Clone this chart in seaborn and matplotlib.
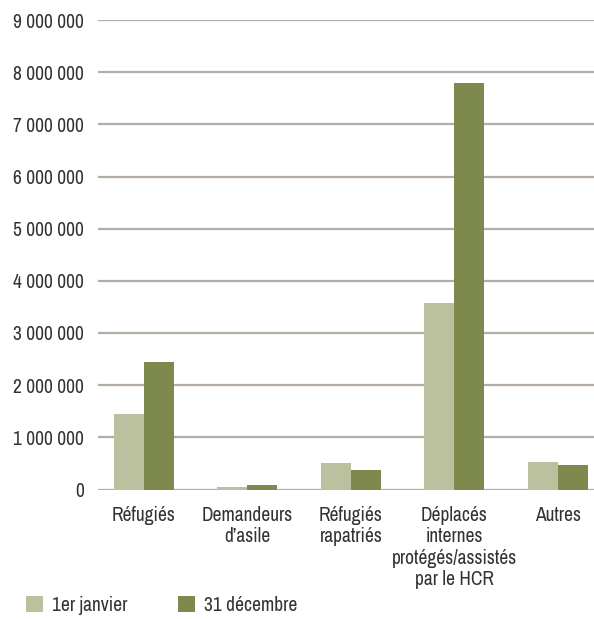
import matplotlib
matplotlib.use("Agg")
import matplotlib.pyplot as plt
import seaborn as sns
import pandas as pd
from matplotlib.patches import Patch

# data
categories = ["Réfugiés", "Demandeurs\nd’asile", "Réfugiés\nrapatriés",
              "Déplacés\ninternes\nprotégés/assistés\npar le HCR", "Autres"]
series = ["1er janvier", "31 décembre"]
jan = [1440000, 50000, 510000, 3570000, 530000]
dec = [2440000, 87000, 375000, 7800000, 470000]
colors = ["#bbc09e", "#7e8a4d"]

df = pd.DataFrame({
    "cat": categories * 2,
    "serie": [series[0]] * 5 + [series[1]] * 5,
    "val": jan + dec,
})

sns.set_style("white")
plt.rcParams["font.family"] = ["Archivo Narrow", "DejaVu Sans"]
plt.rcParams["text.color"] = "#333333"

fig = plt.figure(figsize=(5.94, 6.19), dpi=100)
ax = fig.add_axes([98 / 594, 129.5 / 619, 1 - 98 / 594, (489.5 - 20) / 619])

sns.barplot(data=df, x="cat", y="val", hue="serie", palette=colors,
            width=0.58, saturation=1, linewidth=0, ax=ax, legend=False)

ax.set_ylim(0, 9000000)
ax.set_xlim(-0.445, 4.35)
ax.set_yticks(range(0, 9000001, 1000000))
ax.set_yticklabels(["{:,}".format(v).replace(",", " ") for v in range(0, 9000001, 1000000)])
ax.yaxis.grid(True, color="#b5aca3", linewidth=1.6)
ax.set_axisbelow(True)
for s in ax.spines.values():
    s.set_visible(False)
ax.tick_params(axis="both", length=0, labelsize=14, colors="#333333")
ax.tick_params(axis="y", pad=10)
ax.tick_params(axis="x", pad=12)
for lbl in ax.get_xticklabels():
    lbl.set_linespacing(1.15)
ax.set_xlabel("")
ax.set_ylabel("")

handles = [Patch(facecolor=c, edgecolor="none") for c in colors]
fig.legend(handles, series, loc="lower left", bbox_to_anchor=(8 / 594, -0.022),
           ncol=2, frameon=False, fontsize=14, handlelength=0.9, handleheight=0.9,
           handletextpad=0.45, columnspacing=2.6)

fig.savefig("out.png", dpi=100)
